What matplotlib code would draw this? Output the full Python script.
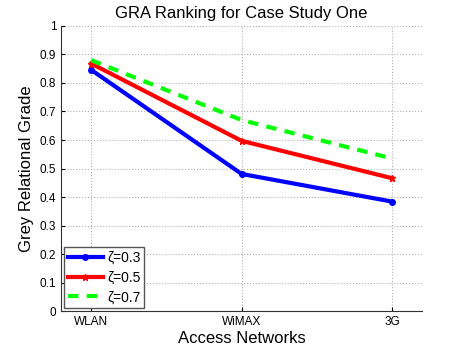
import matplotlib
matplotlib.use('Agg')
import matplotlib.pyplot as plt

plt.rcParams['font.family'] = ['Liberation Sans', 'DejaVu Sans']

networks = ['WLAN', 'WiMAX', '3G']
x = [1, 2, 3]
zeta_03 = [0.846, 0.481, 0.384]
zeta_05 = [0.868, 0.597, 0.466]
zeta_07 = [0.880, 0.670, 0.535]
yticks = [0, 0.1, 0.2, 0.3, 0.4, 0.5, 0.6, 0.7, 0.8, 0.9, 1]

fig = plt.figure(figsize=(4.66, 3.5), dpi=100)
ax = fig.add_axes([0.131, 0.111, 0.775, 0.815])

ax.plot(x, zeta_03, color='#0000ff', lw=3, marker='o', ms=4, label='ζ=0.3')
ax.plot(x, zeta_05, color='#ff0000', lw=3, marker='*', ms=5, label='ζ=0.5')
ax.plot(x, zeta_07, color='#00ff00', lw=3, ls=(0, (2.5, 2)), label='ζ=0.7')

ax.set_xlim(0.8, 3.2)
ax.set_ylim(0, 1)
ax.set_xticks(x)
ax.set_xticklabels(networks)
ax.set_yticks(yticks)
ax.set_yticklabels(['0', '0.1', '0.2', '0.3', '0.4', '0.5', '0.6', '0.7', '0.8', '0.9', '1'])
ax.tick_params(direction='in', labelsize=8.5, length=3)
ax.grid(True, ls=':', color='#b0b0b0', lw=0.8)
ax.spines['top'].set_visible(False)
ax.spines['right'].set_visible(False)
ax.spines['left'].set_color('#333333')
ax.spines['bottom'].set_color('#333333')

ax.set_title('GRA Ranking for Case Study One', fontsize=12, pad=6)
ax.set_xlabel('Access Networks', fontsize=12, labelpad=2)
ax.set_ylabel('Grey Relational Grade', fontsize=12, labelpad=4)

leg = ax.legend(loc='lower left', fontsize=10, fancybox=False, framealpha=1,
                handlelength=2.5, borderaxespad=0.2, labelspacing=0.4,
                handletextpad=0.3, borderpad=0.3)
leg.get_frame().set_edgecolor('#555555')
leg.get_frame().set_linewidth(1.0)

fig.savefig('out.png', dpi=100)
